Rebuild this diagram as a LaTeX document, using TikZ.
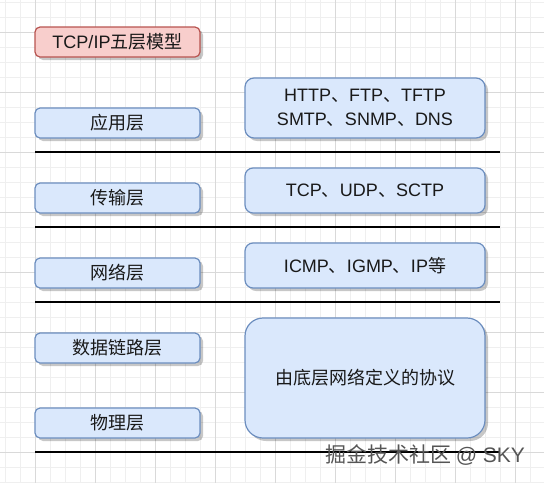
\documentclass[tikz,border=0pt]{standalone}
\usepackage{fontspec}
\setmainfont{Liberation Sans}
\newfontfamily\cjk{Noto Sans CJK SC}
\usetikzlibrary{shadows}

\definecolor{gridminor}{HTML}{EFEFEF}
\definecolor{gridmajor}{HTML}{D9D9D9}
\definecolor{bluefill}{HTML}{DAE8FC}
\definecolor{blueline}{HTML}{6C8EBF}
\definecolor{redfill}{HTML}{F8CECC}
\definecolor{redline}{HTML}{B85450}

\begin{document}
\begin{tikzpicture}[
  x=1pt, y=-1pt,
  box/.style={draw=blueline, fill=bluefill, line width=1.2pt, inner sep=0pt,
    text=black!90, font=\fontsize{18}{24}\selectfont, align=center,
    drop shadow={shadow xshift=3pt, shadow yshift=-3pt, fill=black, opacity=0.22}},
  layer/.style={box, minimum width=165pt, minimum height=30pt, rounded corners=5pt},
  proto/.style={box, minimum width=240pt, rounded corners=8pt},
  sep/.style={line width=1.3pt, black}
]
\useasboundingbox (0,0) rectangle (544,483);

% background grid
\foreach \x in {5,20,...,544} \draw[gridminor, line width=0.6pt] (\x,0) -- (\x,483);
\foreach \y in {2,17,...,483} \draw[gridminor, line width=0.6pt] (0,\y) -- (544,\y);
\foreach \x in {35,95,...,544} \draw[gridmajor, line width=0.8pt] (\x,0) -- (\x,483);
\foreach \y in {32,92,...,483} \draw[gridmajor, line width=0.8pt] (0,\y) -- (544,\y);

% title
\node[layer, draw=redline, fill=redfill] (title) at (117.5,42) {TCP/IP{\cjk 五层模型}};

% layers
\node[layer] (app) at (117.5,123) {\cjk 应用层};
\node[layer] (trans) at (117.5,198) {\cjk 传输层};
\node[layer] (net) at (117.5,273) {\cjk 网络层};
\node[layer] (link) at (117.5,348) {\cjk 数据链路层};
\node[layer] (phys) at (117.5,423) {\cjk 物理层};

% protocols
\node[proto, minimum height=60pt, rounded corners=9pt] (appproto) at (365,108)
  {HTTP{\cjk 、}FTP{\cjk 、}TFTP\\SMTP{\cjk 、}SNMP{\cjk 、}DNS};
\node[proto, minimum height=45pt] (transproto) at (365,190.5)
  {TCP{\cjk 、}UDP{\cjk 、}SCTP};
\node[proto, minimum height=45pt] (netproto) at (365,265.5)
  {ICMP{\cjk 、}IGMP{\cjk 、}IP{\cjk 等}};
\node[proto, minimum height=120pt, rounded corners=18pt] (lowproto) at (365,378)
  {\cjk 由底层网络定义的协议};

% separators
\foreach \y in {152,227,302,452} \draw[sep] (35,\y) -- (500,\y);

% watermark
\node[text={rgb,255:red,85;green,85;blue,85}, font=\cjk\fontsize{21}{24}\selectfont] (mark) at (425,455)
  {掘金技术社区 {\fontspec{Liberation Sans}@ SKY}};
\end{tikzpicture}
\end{document}
